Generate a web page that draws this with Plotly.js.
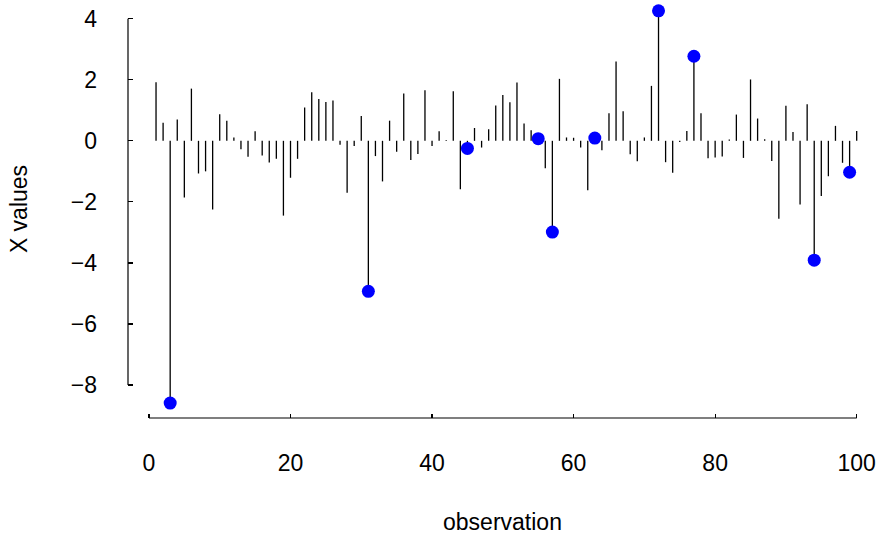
<!DOCTYPE html>
<html>
<head>
<meta charset="utf-8">
<script src="https://cdn.plot.ly/plotly-3.0.1.min.js"></script>
<style>html,body{margin:0;padding:0;background:#fff;}#chart{width:877px;height:538px;}</style>
</head>
<body>
<div id="chart"></div>
<script>
// observation values
const xValues = [
  1.92, 0.59, -8.59, 0.70, -1.86, 1.71, -1.07, -1.00, -2.25, 0.87,
  0.66, 0.11, -0.28, -0.52, 0.31, -0.48, -0.71, -0.59, -2.45, -1.21,
  -0.59, 1.09, 1.59, 1.37, 1.27, 1.32, -0.13, -1.70, -0.17, 0.81,
  -4.93, -0.50, -1.33, 0.66, -0.36, 1.55, -0.63, -0.43, 1.66, -0.17,
  0.31, 0.03, 1.62, -1.59, -0.25, 0.42, -0.22, 0.38, 1.16, 1.50,
  1.26, 1.91, 0.57, 0.35, 0.07, -0.90, -2.99, 2.03, 0.11, 0.10,
  -0.22, -1.62, 0.09, -0.31, 0.90, 2.60, 0.97, -0.44, -0.67, 0.11,
  1.80, 4.26, -0.70, -1.05, -0.04, 0.32, 2.77, 0.90, -0.57, -0.55,
  -0.51, 0.04, 0.86, -0.56, 2.01, 0.73, 0.05, -0.66, -2.55, 1.15,
  0.29, -2.09, 1.20, -3.91, -1.81, -1.16, 0.49, -0.72, -1.03, 0.32
];
const observations = xValues.map((_, i) => i + 1);
const highlighted = [3, 31, 45, 55, 57, 63, 72, 77, 94, 99];
const xTicks = [0, 20, 40, 60, 80, 100];
const yTicks = [-8, -6, -4, -2, 0, 2, 4];

// vertical "h"-type lines
const segX = [], segY = [];
observations.forEach((o, i) => { segX.push(o, o, null); segY.push(0, xValues[i], null); });

const traces = [
  {x: segX, y: segY, type: 'scatter', mode: 'lines', line: {color: '#000', width: 1.3},
   hoverinfo: 'skip', showlegend: false},
  {x: highlighted, y: highlighted.map(o => xValues[o - 1]), type: 'scatter', mode: 'markers',
   marker: {color: '#0000FF', size: 13}, cliponaxis: false, showlegend: false}
];

const font = {family: '"Liberation Sans", Arial, sans-serif', size: 23, color: '#000'};
const layout = {
  width: 877, height: 538,
  margin: {l: 128, r: 0, t: 0, b: 120.4},
  paper_bgcolor: '#fff', plot_bgcolor: '#fff',
  font: font,
  showlegend: false,
  xaxis: {
    range: [-2.96, 102.87], showgrid: false, zeroline: false, showline: false,
    tickmode: 'array', tickvals: xTicks, ticktext: xTicks.map(String),
    ticks: 'inside', ticklen: 4, tickwidth: 1.2, tickcolor: '#000',
    ticklabelstandoff: 29, tickfont: font,
    title: {text: 'observation', font: font, standoff: 38}
  },
  yaxis: {
    range: [-9.08, 4.613], showgrid: false, zeroline: false, showline: false,
    tickmode: 'array', tickvals: yTicks,
    ticks: 'inside', ticklen: 5, tickwidth: 1.2, tickcolor: '#000',
    ticklabelstandoff: 30, tickfont: font,
    title: {text: 'X values', font: font, standoff: 36}
  },
  shapes: [
    {type: 'line', xref: 'x', yref: 'paper', x0: xTicks[0], x1: xTicks[xTicks.length - 1], y0: 0, y1: 0,
     line: {color: '#000', width: 1.2}},
    {type: 'line', xref: 'paper', yref: 'y', x0: 0, x1: 0, y0: yTicks[0], y1: yTicks[yTicks.length - 1],
     line: {color: '#000', width: 1.2}}
  ]
};

Plotly.newPlot('chart', traces, layout, {displayModeBar: false, staticPlot: true});
</script>
</body>
</html>
